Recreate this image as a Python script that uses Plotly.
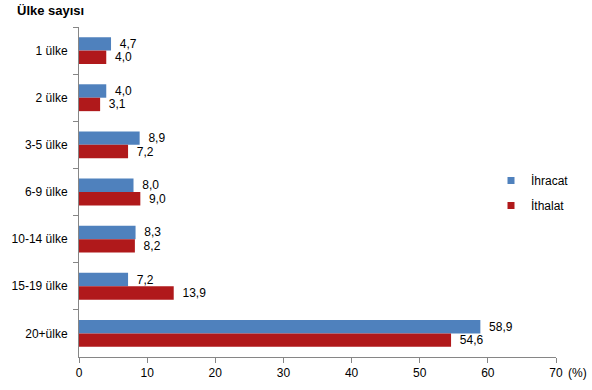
import plotly.graph_objects as go

categories = ["1 ülke", "2 ülke", "3-5 ülke", "6-9 ülke", "10-14 ülke", "15-19 ülke", "20+ülke"]
ihracat = [4.7, 4.0, 8.9, 8.0, 8.3, 7.2, 58.9]
ithalat = [4.0, 3.1, 7.2, 9.0, 8.2, 13.9, 54.6]
x_ticks = [0, 10, 20, 30, 40, 50, 60, 70]
series_names = ["İhracat", "İthalat"]

BLUE = "#4F81BD"
RED = "#B0191B"
FONT = "Liberation Sans, Arial, sans-serif"

W, H = 592, 390
L, R, T, B = 79, 36, 27, 33
PW = W - L - R
PH = H - T - B

fig = go.Figure()
for name, vals, col in [(series_names[0], ihracat, BLUE), (series_names[1], ithalat, RED)]:
    fig.add_trace(go.Bar(
        y=categories, x=vals, orientation="h", name=name,
        marker=dict(color=col, line=dict(width=0)),
        text=vals, texttemplate="\u00a0\u2009%{x:.1f}", textposition="outside",
        constraintext="none",
        textfont=dict(color="#000000", size=12, family=FONT),
        cliponaxis=False, showlegend=False, hoverinfo="skip",
    ))
# legend entries
for i, (name, col) in enumerate([(series_names[0], BLUE), (series_names[1], RED)]):
    fig.add_trace(go.Scatter(
        x=[None], y=[None], mode="markers", name=name,
        marker=dict(symbol="square", size=7, color=col),
        legendgroup=str(i), showlegend=True,
    ))

fig.update_layout(
    width=W, height=H,
    margin=dict(l=L, r=R, t=T, b=B, autoexpand=False),
    barmode="group", bargap=0.43, bargroupgap=0,
    separators=",.",
    plot_bgcolor="white", paper_bgcolor="white",
    font=dict(family=FONT, size=12, color="#000000"),
    showlegend=True,
    legend=dict(x=412 / PW, y=(357 - 193) / 330, xanchor="left", yanchor="middle",
                font=dict(size=12, family=FONT), tracegroupgap=6,
                itemwidth=30, bgcolor="rgba(0,0,0,0)"),
    xaxis=dict(range=[0, 70], tickvals=x_ticks, showgrid=False, zeroline=False,
               showline=True, linecolor="#868686", linewidth=1,
               ticks="outside", ticklen=5, tickcolor="#868686", automargin=False,
               tickfont=dict(size=12, family=FONT)),
    yaxis=dict(autorange="reversed", showgrid=False, zeroline=False,
               showline=True, linecolor="#868686", linewidth=1,
               ticks="outside", ticklen=5, tickcolor="#868686", automargin=False,
               tickson="boundaries", ticklabelstandoff=8,
               tickfont=dict(size=12, family=FONT)),
    annotations=[
        dict(text="<b>Ülke sayısı</b>", xref="paper", yref="paper",
             x=-64 / PW, y=1.0, yshift=17, xanchor="left", yanchor="middle",
             showarrow=False, font=dict(size=13, family=FONT)),
        dict(text="(%)", xref="paper", yref="paper", x=1.0, y=0, xshift=10,
             yshift=-16, xanchor="left", yanchor="middle", showarrow=False,
             font=dict(size=12, family=FONT)),
    ],
)

fig.write_html("out.html", config={"displayModeBar": False},
               post_script="document.body.style.margin='0';")
